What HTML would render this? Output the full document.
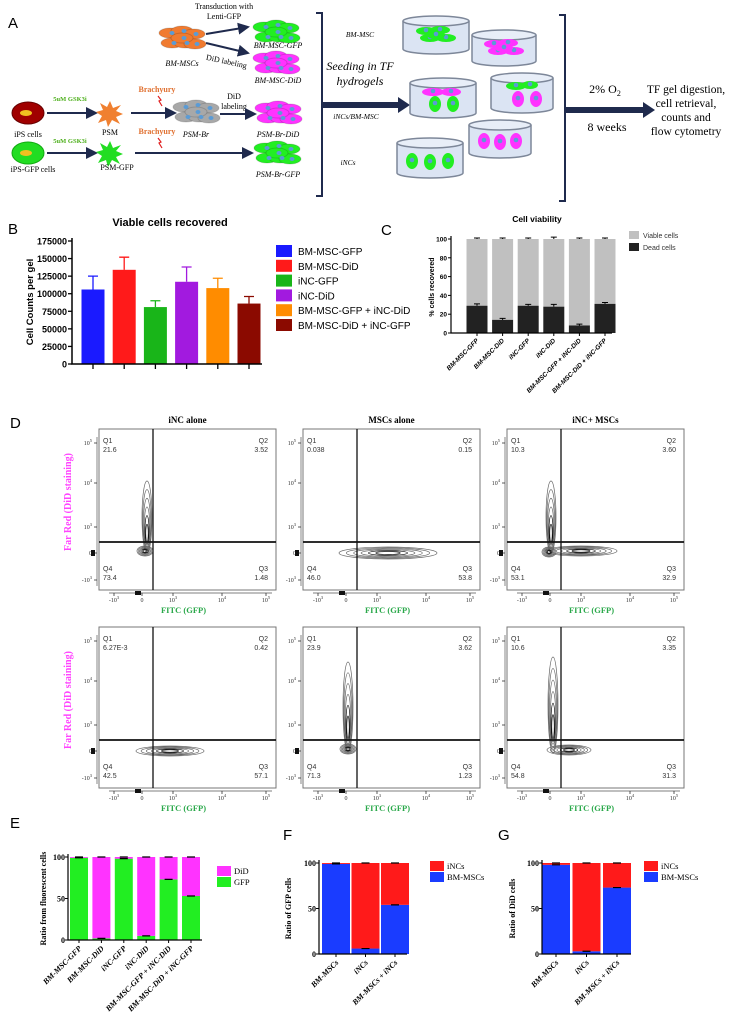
<!DOCTYPE html>
<html><head><meta charset="utf-8">
<style>
html,body{margin:0;padding:0;background:#fff;}
svg{display:block;}
.sans{font-family:"Liberation Sans",Arial,sans-serif;}
.serif{font-family:"Liberation Serif","Times New Roman",serif;}
</style></head>
<body>
<svg id="fig" width="729" height="1024" viewBox="0 0 729 1024" xmlns="http://www.w3.org/2000/svg">
<defs>
<marker id="ah" markerWidth="6" markerHeight="6" refX="5" refY="3" orient="auto"><path d="M0,0 L6,3 L0,6 z" fill="#1f2a4d"/></marker>
</defs>
<g id="panelA">
<text x="8" y="28" class="sans" font-size="15">A</text>
<text x="224" y="9" class="serif" font-size="8" text-anchor="middle">Transduction with</text>
<text x="224" y="19" class="serif" font-size="8" text-anchor="middle">Lenti-GFP</text>
<line x1="206" y1="34" x2="248" y2="27" stroke="#1f2a4d" stroke-width="2" marker-end="url(#ah)"/>
<line x1="206" y1="43" x2="248" y2="53" stroke="#1f2a4d" stroke-width="2" marker-end="url(#ah)"/>
<text x="226" y="64" class="serif" font-size="8" text-anchor="middle" transform="rotate(12 226 64)">DiD labeling</text>
<text x="182" y="66" class="serif" font-size="8" font-style="italic" text-anchor="middle">BM-MSCs</text>
<text x="278" y="48" class="serif" font-size="8" font-style="italic" text-anchor="middle">BM-MSC-GFP</text>
<text x="278" y="83" class="serif" font-size="8" font-style="italic" text-anchor="middle">BM-MSC-DiD</text>
<ellipse cx="28" cy="113" rx="16" ry="11" fill="#a00000" stroke="#600"/>
<ellipse cx="26" cy="113" rx="6" ry="3" fill="#f0c020"/>
<text x="28" y="137" class="serif" font-size="8" text-anchor="middle">iPS cells</text>
<text x="70" y="101" class="serif" font-size="6.5" fill="#4caf1a" font-weight="bold" text-anchor="middle">5uM GSK3i</text>
<line x1="47" y1="113" x2="96" y2="113" stroke="#1f2a4d" stroke-width="2" marker-end="url(#ah)"/>
<polygon points="110,101 113,108 121,105 116,111 123,114 116,117 120,124 112,120 108,127 106,120 98,123 102,116 96,112 103,110 100,103 107,107" fill="#f08030"/>
<text x="110" y="135" class="serif" font-size="8" text-anchor="middle">PSM</text>
<line x1="131" y1="113" x2="175" y2="113" stroke="#1f2a4d" stroke-width="2" marker-end="url(#ah)"/>
<text x="157" y="92" class="serif" font-size="8" fill="#e07030" font-weight="bold" text-anchor="middle">Brachyury</text>
<path d="M158,96 l3,4 -2,1 3,5" stroke="#e02020" fill="none" stroke-width="1.2"/>
<text x="196" y="137" class="serif" font-size="8" font-style="italic" text-anchor="middle">PSM-Br</text>
<text x="234" y="99" class="serif" font-size="8" text-anchor="middle">DiD</text>
<text x="234" y="109" class="serif" font-size="8" text-anchor="middle">labeling</text>
<line x1="220" y1="114" x2="255" y2="114" stroke="#1f2a4d" stroke-width="2" marker-end="url(#ah)"/>
<text x="278" y="137" class="serif" font-size="8" font-style="italic" text-anchor="middle">PSM-Br-DiD</text>
<ellipse cx="28" cy="153" rx="16" ry="11" fill="#22dd22" stroke="#1a1"/>
<ellipse cx="26" cy="153" rx="6" ry="3" fill="#f0c020"/>
<text x="33" y="172" class="serif" font-size="8" text-anchor="middle">iPS-GFP cells</text>
<text x="70" y="143" class="serif" font-size="6.5" fill="#4caf1a" font-weight="bold" text-anchor="middle">5uM GSK3i</text>
<line x1="47" y1="153" x2="96" y2="153" stroke="#1f2a4d" stroke-width="2" marker-end="url(#ah)"/>
<polygon points="110,141 113,148 121,145 116,151 123,154 116,157 120,164 112,160 108,167 106,160 98,163 102,156 96,152 103,150 100,143 107,147" fill="#22dd22"/>
<text x="117" y="170" class="serif" font-size="8" text-anchor="middle">PSM-GFP</text>
<text x="157" y="134" class="serif" font-size="8" fill="#e07030" font-weight="bold" text-anchor="middle">Brachyury</text>
<path d="M158,138 l3,4 -2,1 3,5" stroke="#e02020" fill="none" stroke-width="1.2"/>
<line x1="135" y1="153" x2="252" y2="153" stroke="#1f2a4d" stroke-width="2" marker-end="url(#ah)"/>
<text x="278" y="177" class="serif" font-size="8" font-style="italic" text-anchor="middle">PSM-Br-GFP</text>
<path d="M316,13 L322,13 L322,196 L316,196" stroke="#1f2a4d" stroke-width="2" fill="none"/>
<text x="360" y="37" class="serif" font-size="7.5" font-style="italic" text-anchor="middle">BM-MSC</text>
<text x="360" y="70" class="serif" font-size="12" font-style="italic" text-anchor="middle">Seeding in TF</text>
<text x="360" y="85" class="serif" font-size="12" font-style="italic" text-anchor="middle">hydrogels</text>
<line x1="322" y1="105" x2="400" y2="105" stroke="#1f2a4d" stroke-width="6"/>
<polygon points="398,97 410,105 398,113" fill="#1f2a4d"/>
<text x="356" y="119" class="serif" font-size="7.5" font-style="italic" text-anchor="middle">iNCs/BM-MSC</text>
<text x="348" y="165" class="serif" font-size="7.5" font-style="italic" text-anchor="middle">iNCs</text>
<g id="dishes"></g>
<path d="M559,15 L565,15 L565,201 L559,201" stroke="#1f2a4d" stroke-width="2" fill="none"/>
<line x1="565" y1="110" x2="645" y2="110" stroke="#1f2a4d" stroke-width="6"/>
<polygon points="643,102 655,110 643,118" fill="#1f2a4d"/>
<text x="605" y="93" class="serif" font-size="12" text-anchor="middle">2% O<tspan font-size="8" dy="3">2</tspan></text>
<text x="607" y="131" class="serif" font-size="12" text-anchor="middle">8 weeks</text>
<text x="686" y="93" class="serif" font-size="11.5" text-anchor="middle">TF gel digestion,</text>
<text x="686" y="107" class="serif" font-size="11.5" text-anchor="middle">cell retrieval,</text>
<text x="686" y="121" class="serif" font-size="11.5" text-anchor="middle">counts and</text>
<text x="686" y="135" class="serif" font-size="11.5" text-anchor="middle">flow cytometry</text>
</g>
<g id="panelB">
<text x="8" y="234" class="sans" font-size="15">B</text>
<text x="170" y="226" class="sans" font-size="11" font-weight="bold" text-anchor="middle">Viable cells recovered</text>
<text x="0" y="0" class="sans" font-size="9.5" font-weight="bold" text-anchor="middle" transform="translate(33,302) rotate(-90)">Cell Counts per gel</text>
</g>
<g id="panelC">
<text x="381" y="235" class="sans" font-size="15">C</text>
<text x="537" y="222" class="sans" font-size="8.5" font-weight="bold" text-anchor="middle">Cell viability</text>
<text x="0" y="0" class="sans" font-size="7" font-weight="bold" text-anchor="middle" transform="translate(434,287) rotate(-90)">% cells recovered</text>
</g>
<g id="panelD">
<text x="10" y="428" class="sans" font-size="15">D</text>
</g>
<g id="panelEFG">
<text x="10" y="828" class="sans" font-size="15">E</text>
<text x="283" y="840" class="sans" font-size="15">F</text>
<text x="498" y="840" class="sans" font-size="15">G</text>
</g>
</svg>
<script>
// ---------- Chart data ----------
const bCategories = ["BM-MSC-GFP","BM-MSC-DiD","iNC-GFP","iNC-DiD","BM-MSC-GFP + iNC-DiD","BM-MSC-DiD + iNC-GFP"];
const bValues = [106000,134000,81000,117000,108000,86000];
const bErrors = [19000,18000,9000,21000,14000,10000];
const bTicks = [0,25000,50000,75000,100000,125000,150000,175000];
const bColors = ["#1a1aff","#ff1a1a","#19b519","#a21adf","#ff8c00","#8b0a00"];

const cCategories = ["BM-MSC-GFP","BM-MSC-DiD","iNC-GFP","iNC-DiD","BM-MSC-GFP + iNC-DiD","BM-MSC-DiD + iNC-GFP"];
const cDead = [29,14,29,28,8,31];
const cDeadErr = [2,1.5,1.5,2.5,1.5,1.5];
const cViable = [71,86,71,72,92,69];
const cViableErr = [1,1,1,2,1,1];
const cTicks = [0,20,40,60,80,100];

const dTitles = ["iNC alone","MSCs alone","iNC+ MSCs"];
const dQ1 = ["21.6","0.038","10.3","6.27E-3","23.9","10.6"];
const dQ2 = ["3.52","0.15","3.60","0.42","3.62","3.35"];
const dQ3 = ["1.48","53.8","32.9","57.1","1.23","31.3"];
const dQ4 = ["73.4","46.0","53.1","42.5","71.3","54.8"];

const eCategories = ["BM-MSC-GFP","BM-MSC-DiD","iNC-GFP","iNC-DiD","BM-MSC-GFP + iNC-DiD","BM-MSC-DiD + iNC-GFP"];
const eGFP = [99,2,98,5,73,53];
const eDiD = [1,98,2,95,27,47];
const eTicks = [0,50,100];

const fCategories = ["BM-MSCs","iNCs","BM-MSCs + iNCs"];
const fBM = [99,6,54];
const fINC = [1,94,46];
const gCategories = ["BM-MSCs","iNCs","BM-MSCs + iNCs"];
const gBM = [98,3,73];
const gINC = [2,97,27];
const fgTicks = [0,50,100];

const NS = "http://www.w3.org/2000/svg";
function mk(parent, tag, attrs, txt){
  const el = document.createElementNS(NS, tag);
  for (const k in attrs) el.setAttribute(k, attrs[k]);
  if (txt !== undefined) el.textContent = txt;
  parent.appendChild(el);
  return el;
}
const SANS = '"Liberation Sans",Arial,sans-serif';
const SERIF = '"Liberation Serif","Times New Roman",serif';

// ---------- Panel A cells & dishes ----------
(function(){
  const A = document.getElementById('panelA');
  function cluster(cx, cy, color, name){
    const g = mk(A,'g',{});
    
    
    const offs = [[-12,-5],[0,-7],[12,-4],[-10,5],[3,5],[13,6],[0,0]];
    offs.forEach(o=>{
      const e = mk(g,'ellipse',{cx:cx+o[0],cy:cy+o[1],rx:11,ry:5,fill:color,stroke:'rgba(0,0,0,0.15)'});
      
      
    });
    offs.forEach(o=>{
      const d = mk(g,'ellipse',{cx:cx+o[0]+2,cy:cy+o[1],rx:2.5,ry:2,fill:'#5b9bd5'});
      
      
    });
  }
  cluster(182,38,'#f07b30','bm-mscs-cluster');
  cluster(276,32,'#22ee22','bm-msc-gfp-cluster');
  cluster(276,63,'#ff33ff','bm-msc-did-cluster');
  cluster(196,112,'#a8a8a8','psm-br-cluster');
  cluster(278,113,'#ff33ff','psm-br-did-cluster');
  cluster(277,153,'#22ee22','psm-br-gfp-cluster');

  const D = document.getElementById('dishes');
  function dish(cx, cy, w, h, name, cells){
    const g = mk(D,'g',{});
    
    
    const b = mk(g,'path',{d:`M${cx-w/2},${cy-h/2+4} L${cx-w/2},${cy+h/2-4} A${w/2},5 0 0 0 ${cx+w/2},${cy+h/2-4} L${cx+w/2},${cy-h/2+4}`,fill:'#dbe4f3',stroke:'#7d8799','stroke-width':1.5});
    
    
    const t = mk(g,'ellipse',{cx:cx,cy:cy-h/2+4,rx:w/2,ry:5,fill:'#e8eef8',stroke:'#7d8799','stroke-width':1.5});
    
    
    cells.forEach(c=>{
      const e = mk(g,'ellipse',{cx:cx+c[0],cy:cy+c[1],rx:c[2],ry:c[3],fill:c[4]});
      
      
      const n = mk(g,'circle',{cx:cx+c[0],cy:cy+c[1]-1,r:2.3,fill:'#5b9bd5'});
      
      
    });
  }
  const G='#22ee22', M='#ff33ff';
  dish(436,35,66,36,'dish-bm-msc-gfp',[[-10,-4,10,4,G],[4,-5,10,4,G],[-6,3,10,4,G],[10,3,10,4,G],[0,0,9,4,G]]);
  dish(504,48,64,34,'dish-bm-msc-did',[[-10,-4,10,4,M],[4,-5,10,4,M],[-6,3,10,4,M],[10,3,10,4,M],[0,0,9,4,M]]);
  dish(443,98,66,38,'dish-mixed-1',[[-10,-6,11,4,M],[8,-6,10,4,M],[-8,6,6,8,G],[10,6,6,8,G]]);
  dish(522,93,62,38,'dish-mixed-2',[[-6,-7,10,4,G],[8,-8,8,4,G],[-4,6,6,8,M],[14,6,6,8,M]]);
  dish(500,139,62,36,'dish-incs-did',[[-16,2,6,8,M],[0,3,6,8,M],[16,2,6,8,M]]);
  dish(430,158,66,38,'dish-incs-gfp',[[-18,3,6,8,G],[0,4,6,8,G],[18,3,6,8,G]]);
})();

// ---------- Panel B ----------
(function(){
  const P = document.getElementById('panelB');
  const x0=72, x1=262, yTop=241, yBot=364, maxV=175000;
  const yB = v => yBot - v/maxV*(yBot-yTop);
  const xB = i => 93 + i*31.2;
  const bw = 23;
  bValues.forEach((v,i)=>{
    const cx = xB(i);
    const r = mk(P,'rect',{x:cx-bw/2,y:yB(v),width:bw,height:yBot-yB(v),fill:bColors[i]});
    
    
    const e = mk(P,'path',{d:`M${cx},${yB(v)} V${yB(v+bErrors[i])} M${cx-5},${yB(v+bErrors[i])} H${cx+5}`,stroke:bColors[i],'stroke-width':1.3,fill:'none'});
    
    
    const t = mk(P,'line',{x1:cx,y1:yBot,x2:cx,y2:yBot+5,stroke:'#000','stroke-width':1.3});
    
    
  });
  const ax = mk(P,'path',{d:`M${x0},${yTop-3} V${yBot} H${x1}`,stroke:'#000','stroke-width':1.5,fill:'none'});
  
  
  bTicks.forEach(t=>{
    const l = mk(P,'line',{x1:x0-4,y1:yB(t),x2:x0,y2:yB(t),stroke:'#000','stroke-width':1.3});
    
    
    const tx = mk(P,'text',{x:x0-5,y:yB(t)+3.5,'font-size':9,'font-weight':'bold','text-anchor':'end','font-family':SANS},String(t));
    
    
  });
  bCategories.forEach((c,i)=>{
    const y = 251 + i*14.8;
    const s = mk(P,'rect',{x:276,y:y-6,width:16,height:12,fill:bColors[i]});
    
    
    const t = mk(P,'text',{x:298,y:y+4,'font-size':10,'font-family':SANS},c);
    
    
  });
})();

// ---------- Panel C ----------
(function(){
  const P = document.getElementById('panelC');
  const x0=451, x1=612, yBot=333, k=0.94;
  const yC = v => yBot - v*k;
  const xC = i => 477 + i*25.6;
  const bw=21;
  cDead.forEach((d,i)=>{
    const cx=xC(i);
    const top = d + cViable[i];
    const rv = mk(P,'rect',{x:cx-bw/2,y:yC(top),width:bw,height:yC(d)-yC(top),fill:'#c0c0c0'});
    
    
    const rd = mk(P,'rect',{x:cx-bw/2,y:yC(d),width:bw,height:yBot-yC(d),fill:'#222'});
    
    
    const e1 = mk(P,'path',{d:`M${cx},${yC(d)} V${yC(d+cDeadErr[i])} M${cx-3},${yC(d+cDeadErr[i])} H${cx+3}`,stroke:'#000','stroke-width':1});
    
    
    const e2 = mk(P,'path',{d:`M${cx},${yC(top)} V${yC(top+cViableErr[i])} M${cx-3},${yC(top+cViableErr[i])} H${cx+3}`,stroke:'#000','stroke-width':1});
    
    
    const tk = mk(P,'line',{x1:cx,y1:yBot,x2:cx,y2:yBot+3,stroke:'#000'});
    
    
    const lb = mk(P,'text',{x:cx+2,y:yBot+8,'font-size':6.5,'font-weight':'bold','font-style':'italic','text-anchor':'end','font-family':SANS,transform:`rotate(-45 ${cx+2} ${yBot+8})`},cCategories[i]);
    
    
  });
  const ax = mk(P,'path',{d:`M${x0},${yC(100)-3} V${yBot} H${x1}`,stroke:'#000','stroke-width':1.2,fill:'none'});
  
  
  cTicks.forEach(t=>{
    const l = mk(P,'line',{x1:x0-3,y1:yC(t),x2:x0,y2:yC(t),stroke:'#000'});
    
    
    const tx = mk(P,'text',{x:x0-4,y:yC(t)+2.5,'font-size':6.5,'font-weight':'bold','text-anchor':'end','font-family':SANS},String(t));
    
    
  });
  [['Viable cells','#c0c0c0',235],['Dead cells','#222',247]].forEach(l=>{
    const s = mk(P,'rect',{x:629,y:l[2]-4,width:10,height:8,fill:l[1]});
    
    
    const t = mk(P,'text',{x:643,y:l[2]+3,'font-size':7,'font-family':SANS,fill:'#333'},l[0]);
    
    
  });
})();

// ---------- Panel D ----------
(function(){
  const P = document.getElementById('panelD');
  const lefts=[99,303,507], tops=[429,627], W=177, H=161, gx=54, gy=113;
  const yt=[[14,'10','5'],[54,'10','4'],[98,'10','3'],[124,'0',''],[151,'-10','3']];
  const xt=[[15,'-10','3'],[43,'0',''],[74,'10','3'],[123,'10','4'],[167,'10','5']];
  const blobs = [
    [[48,88,5,36],[46,122,8,5]],
    [[85,124,49,6]],
    [[44,88,5,36],[74,122,36,5],[42,123,7,5]],
    [[71,124,34,5]],
    [[45,80,5,45],[45,122,8,5]],
    [[46,78,5,48],[62,123,22,5]]
  ];
  for(let r=0;r<2;r++) for(let c=0;c<3;c++){
    const idx=r*3+c, L=lefts[c], T=tops[r];
    const g = mk(P,'g',{});
    
    
    if(r===0){
      const tt = mk(g,'text',{x:L+W/2,y:T-6,'font-size':9,'font-weight':'bold','text-anchor':'middle','font-family':SERIF},dTitles[c]);
      
      
    }
    const bx = mk(g,'rect',{x:L,y:T,width:W,height:H,fill:'none',stroke:'#777','stroke-width':1});
    
    
    blobs[idx].forEach(b=>{
      for(let k=0;k<6;k++){
        const f = 1 - k*0.15;
        const e = mk(g,'ellipse',{cx:L+b[0],cy:T+b[1]+ (b[3]>b[2]? b[3]*(1-f)*0.6:0),rx:Math.max(1,b[2]*f),ry:Math.max(1,b[3]*f),fill:'none',stroke:k>3?'#111':'#666','stroke-width':0.7});
        
        
      }
    });
    const gv = mk(g,'line',{x1:L+gx,y1:T,x2:L+gx,y2:T+H,stroke:'#111','stroke-width':1.3});
    
    
    const gh = mk(g,'line',{x1:L,y1:T+gy,x2:L+W,y2:T+gy,stroke:'#111','stroke-width':1.8});
    
    
    const qs=[['Q1',dQ1[idx],L+4,T+14,'start'],['Q2',dQ2[idx],L+W-8,T+14,'end'],['Q4',dQ4[idx],L+4,T+142,'start'],['Q3',dQ3[idx],L+W-8,T+142,'end']];
    qs.forEach(q=>{
      const a = mk(g,'text',{x:q[2],y:q[3],'font-size':7,'font-family':SANS,fill:'#333','text-anchor':q[4]},q[0]);
      
      
      const b = mk(g,'text',{x:q[2],y:q[3]+9,'font-size':7,'font-family':SANS,fill:'#333','text-anchor':q[4]},q[1]);
      
      
    });
    const yax = mk(g,'line',{x1:L-2,y1:T+8,x2:L-2,y2:T+H-4,stroke:'#555','stroke-width':0.7});
    
    
    yt.forEach(t=>{
      const tl = mk(g,'text',{x:L-7,y:T+t[0]+2,'font-size':6,'font-family':SERIF,'text-anchor':'end',fill:'#333'});
      tl.textContent=t[1];
      if(t[2]){ const s=mk(tl,'tspan',{dy:-3,'font-size':4.5},t[2]);   }
      
      
      const tk = mk(g,'line',{x1:L-5,y1:T+t[0],x2:L-2,y2:T+t[0],stroke:'#333','stroke-width':0.8});
      
      
    });
    const xax = mk(g,'line',{x1:L+10,y1:T+H+3,x2:L+W-4,y2:T+H+3,stroke:'#555','stroke-width':0.7});
    
    
    const sq = mk(g,'rect',{x:L+36,y:T+H+1,width:6,height:4,fill:'#111'});
    
    
    const sq2 = mk(g,'rect',{x:L-8,y:T+121,width:4,height:6,fill:'#111'});
    
    
    xt.forEach(t=>{
      const tl = mk(g,'text',{x:L+t[0],y:T+H+12,'font-size':6,'font-family':SERIF,'text-anchor':'middle',fill:'#333'});
      tl.textContent=t[1];
      if(t[2]){ const s=mk(tl,'tspan',{dy:-3,'font-size':4.5},t[2]);   }
      
      
      const tk = mk(g,'line',{x1:L+t[0],y1:T+H+3,x2:L+t[0],y2:T+H+6,stroke:'#333','stroke-width':0.8});
      
      
    });
    const xtitle = mk(g,'text',{x:L+W/2-4,y:T+H+23,'font-size':8.5,'font-weight':'bold','font-family':SERIF,fill:'#2aa84a','text-anchor':'middle'},'FITC (GFP)');
    
    
    if(c===0){
      const yy = mk(g,'text',{x:0,y:0,'font-size':10,'font-weight':'bold','font-family':SERIF,fill:'#ff44ff','text-anchor':'middle',transform:`translate(71,${T+73}) rotate(-90)`},'Far Red (DiD staining)');
      
      
    }
  }
})();

// ---------- Panels E, F, G ----------
(function(){
  const P = document.getElementById('panelEFG');
  function stacked(opts){
    const {x0,x1,yBot,k,xs,bw,bottom,topv,cBot,cTop,cats,ticks,ytitle,ytx,legend,lx,ly,name} = opts;
    const y = v => yBot - v*k;
    const g = mk(P,'g',{});
    
    
    bottom.forEach((b,i)=>{
      const cx = xs(i);
      const r1 = mk(g,'rect',{x:cx-bw/2,y:y(b),width:bw,height:yBot-y(b),fill:cBot});
      
      
      const r2 = mk(g,'rect',{x:cx-bw/2,y:y(b+topv[i]),width:bw,height:y(b)-y(b+topv[i]),fill:cTop});
      
      
      const e = mk(g,'path',{d:`M${cx-4},${y(b)} H${cx+4} M${cx-4},${y(b+topv[i])} H${cx+4}`,stroke:'#000','stroke-width':1.2});
      
      
      const tk = mk(g,'line',{x1:cx,y1:yBot,x2:cx,y2:yBot+3,stroke:'#000'});
      
      
      const lb = mk(g,'text',{x:cx+3,y:yBot+9,'font-size':8,'font-weight':'bold','font-style':'italic','text-anchor':'end','font-family':SERIF,transform:`rotate(-45 ${cx+3} ${yBot+9})`},cats[i]);
      
      
    });
    const ax = mk(g,'path',{d:`M${x0},${y(100)-3} V${yBot} H${x1}`,stroke:'#000','stroke-width':1.2,fill:'none'});
    
    
    ticks.forEach(t=>{
      const l = mk(g,'line',{x1:x0-3,y1:y(t),x2:x0,y2:y(t),stroke:'#000'});
      
      
      const tx = mk(g,'text',{x:x0-3,y:y(t)+3,'font-size':8,'font-weight':'bold','text-anchor':'end','font-family':SERIF},String(t));
      
      
    });
    const yt = mk(g,'text',{x:0,y:0,'font-size':8,'font-weight':'bold','font-family':SERIF,'text-anchor':'middle',transform:`translate(${ytx},${y(50)}) rotate(-90)`},ytitle);
    
    
    legend.forEach((l,i)=>{
      const s = mk(g,'rect',{x:lx,y:ly+i*11-5,width:14,height:10,fill:l[1]});
      
      
      const t = mk(g,'text',{x:lx+17,y:ly+i*11+3,'font-size':8.5,'font-family':SERIF},l[0]);
      
      
    });
  }
  stacked({name:'chart-e-fluorescent-ratio',x0:68,x1:202,yBot:940,k:0.83,xs:i=>79+i*22.4,bw:18,bottom:eGFP,topv:eDiD,cBot:'#22ee22',cTop:'#ff33ff',cats:eCategories,ticks:eTicks,ytitle:'Ratio from fluorescent cells',ytx:46,legend:[['DiD','#ff33ff'],['GFP','#22ee22']],lx:217,ly:871});
  stacked({name:'chart-f-gfp-ratio',x0:319,x1:407,yBot:954,k:0.91,xs:i=>336+i*29.5,bw:28,bottom:fBM,topv:fINC,cBot:'#1a3cff',cTop:'#ff1a1a',cats:fCategories,ticks:fgTicks,ytitle:'Ratio of GFP cells',ytx:291,legend:[['iNCs','#ff1a1a'],['BM-MSCs','#1a3cff']],lx:430,ly:866});
  stacked({name:'chart-g-did-ratio',x0:542,x1:631,yBot:954,k:0.91,xs:i=>556+i*30.5,bw:28,bottom:gBM,topv:gINC,cBot:'#1a3cff',cTop:'#ff1a1a',cats:gCategories,ticks:fgTicks,ytitle:'Ratio of DiD  cells',ytx:515,legend:[['iNCs','#ff1a1a'],['BM-MSCs','#1a3cff']],lx:644,ly:866});
})();
</script>
</body></html>
